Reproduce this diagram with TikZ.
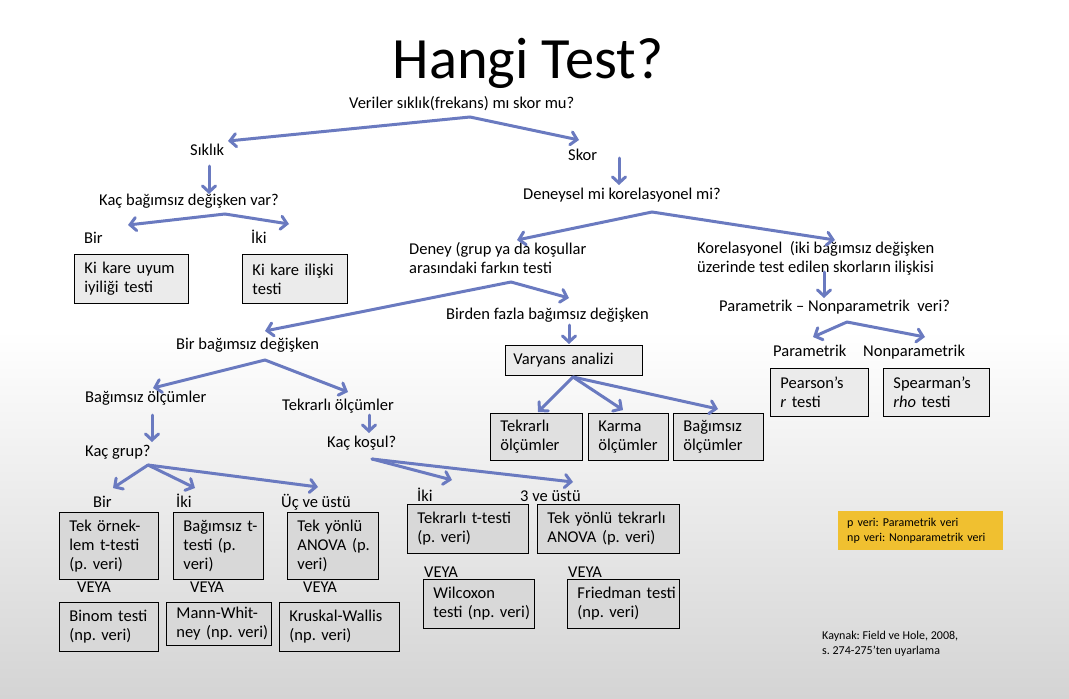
\documentclass[tikz,border=0pt]{standalone}
\usepackage{fontspec}
\setmainfont{Carlito}
\usetikzlibrary{arrows.meta}
\frenchspacing
\definecolor{arrowc}{RGB}{106,122,192}
\definecolor{boxa}{RGB}{235,235,235}
\definecolor{boxb}{RGB}{224,224,224}
\definecolor{boxc}{RGB}{216,216,216}
\definecolor{bggray}{RGB}{212,212,212}
\definecolor{legendc}{RGB}{240,192,48}
\newcommand{\bodyfont}{\fontsize{16.5}{19}\selectfont}
\newcommand{\smallfnt}{\fontsize{12}{15}\selectfont}
\tikzset{
  lbl/.style={anchor=mid west, inner sep=0pt, yshift=-2.5pt, font=\bodyfont},
  mlbl/.style={anchor=west, inner sep=0pt, align=left, yshift=-1pt, font=\bodyfont},
  tbox/.style={draw=black, line width=0.9pt, anchor=north west, align=left,
    inner xsep=10pt, inner ysep=0pt, font=\bodyfont},
  arr/.style={draw=arrowc, line width=3pt, line cap=round,
    -{Straight Barb[length=6pt,width=13pt,line cap=round]}},
}
\begin{document}
\begin{tikzpicture}[x=1pt,y=-1pt]
\useasboundingbox (0,0) rectangle (1069,699);
\fill[white] (0,0) rectangle (1069,699);
\shade[top color=white, bottom color=bggray] (0,330) rectangle (1069,699);

% title
\node[anchor=base, inner sep=0pt, font=\fontsize{58.5}{62}\selectfont] (title) at (528,78) {Hangi Test?};

% top level
\node[lbl] (veriler) at (349,104) {Veriler sıklık(frekans) mı skor mu?};
\node[lbl] (siklik) at (190,151) {Sıklık};
\node[lbl] (skor) at (568,156) {Skor};
\node[lbl] (kacbag) at (99,201) {Kaç bağımsız değişken var?};
\node[lbl] (bir1) at (84,239) {Bir};
\node[lbl] (iki1) at (251,239) {İki};
\node[tbox, fill=boxa, minimum width=114pt, text width=94pt, minimum height=49pt] (kiuyum) at (74,254) {\mbox{Ki kare uyum}\\\mbox{iyiliği testi}};
\node[tbox, fill=boxa, minimum width=105pt, text width=85pt, minimum height=49pt] (kiilis) at (242,254) {\mbox{Ki kare ilişki}\\\mbox{testi}};

\node[lbl] (deneysel) at (523,195) {Deneysel mi korelasyonel mi?};
\node[mlbl] (deney) at (409,257) {Deney (grup ya da koşullar\\arasındaki farkın testi};
\node[mlbl] (korel) at (697,257) {Korelasyonel\ \ (iki bağımsız değişken\\üzerinde test edilen skorların ilişkisi};

\node[lbl] (birden) at (446,315) {Birden fazla bağımsız değişken};
\node[tbox, fill=boxa, inner xsep=8pt, minimum width=137pt, text width=121pt, minimum height=30pt] (varyans) at (505,345) {Varyans analizi};
\node[tbox, fill=boxb, minimum width=92pt, text width=72pt, minimum height=47pt] (tekrolc) at (490,413) {\mbox{Tekrarlı}\\\mbox{ölçümler}};
\node[tbox, fill=boxb, minimum width=80pt, text width=60pt, minimum height=47pt] (karma) at (588,413) {\mbox{Karma}\\\mbox{ölçümler}};
\node[tbox, fill=boxb, minimum width=90pt, text width=70pt, minimum height=47pt] (bagolc) at (673,413) {\mbox{Bağımsız}\\\mbox{ölçümler}};

\node[lbl] (parnon) at (719,307) {Parametrik -- Nonparametrik\ \ veri?};
\node[lbl] (param) at (773,352) {Parametrik};
\node[lbl] (nonparam) at (863,352) {Nonparametrik};
\node[tbox, fill=boxa, minimum width=98pt, text width=78pt, minimum height=48pt] (pearson) at (770,368) {\mbox{Pearson’s}\\\mbox{\textit{r} testi}};
\node[tbox, fill=boxa, minimum width=106pt, text width=86pt, minimum height=48pt] (spearman) at (883,368) {\mbox{Spearman’s}\\\mbox{\textit{rho} testi}};

% left branch
\node[lbl] (birbag) at (176,345) {Bir bağımsız değişken};
\node[lbl] (bagolcl) at (85,398) {Bağımsız ölçümler};
\node[lbl] (tekolcl) at (282,406) {Tekrarlı ölçümler};
\node[lbl] (kacgrup) at (85,452) {Kaç grup?};
\node[lbl] (kackosul) at (327,443) {Kaç koşul?};

\node[lbl] (bir2) at (93,503) {Bir};
\node[lbl] (iki2) at (176,503) {İki};
\node[lbl] (uc) at (281,503) {Üç ve üstü};
\node[tbox, fill=boxc, minimum width=99pt, text width=79pt, minimum height=67pt] (tekornek) at (59,512) {\mbox{Tek örnek-}\\\mbox{lem t-testi}\\\mbox{(p. veri)}};
\node[tbox, fill=boxc, minimum width=90pt, text width=70pt, minimum height=67pt] (bagt) at (173,512) {\mbox{Bağımsız t-}\\\mbox{testi (p.}\\\mbox{veri)}};
\node[tbox, fill=boxc, minimum width=91pt, text width=71pt, minimum height=67pt] (anova) at (287,512) {\mbox{Tek yönlü}\\\mbox{ANOVA (p.}\\\mbox{veri)}};
\node[lbl] (veya1) at (77,588) {VEYA};
\node[lbl] (veya2) at (190,588) {VEYA};
\node[lbl] (veya3) at (303,588) {VEYA};
\node[tbox, fill=boxc, minimum width=99pt, text width=79pt, minimum height=49pt] (binom) at (59,602) {\mbox{Binom testi}\\\mbox{(np. veri)}};
\node[tbox, fill=boxc, minimum width=105pt, text width=85pt, minimum height=43pt] (mann) at (166,602) {\mbox{Mann-Whit-}\\\mbox{ney (np. veri)}};
\node[tbox, fill=boxc, minimum width=120pt, text width=100pt, minimum height=49pt] (kruskal) at (279,602) {\mbox{Kruskal-Wallis}\\\mbox{(np. veri)}};

\node[lbl] (iki3) at (417,497) {İki};
\node[lbl] (ucve) at (520,497) {3 ve üstü};
\node[tbox, fill=boxc, minimum width=121pt, text width=101pt, minimum height=49pt] (tekrt) at (407,504) {\mbox{Tekrarlı t-testi}\\\mbox{(p. veri)}};
\node[tbox, fill=boxc, minimum width=142pt, text width=122pt, minimum height=49pt] (tekyt) at (537,504) {\mbox{Tek yönlü tekrarlı}\\\mbox{ANOVA (p. veri)}};
\node[lbl] (veya4) at (424,573) {VEYA};
\node[lbl] (veya5) at (568,573) {VEYA};
\node[tbox, fill=boxc, minimum width=111pt, text width=91pt, minimum height=49pt] (wilcoxon) at (423,579) {\mbox{Wilcoxon}\\\mbox{testi (np. veri)}};
\node[tbox, fill=boxc, minimum width=112pt, text width=92pt, minimum height=49pt] (friedman) at (567,579) {\mbox{Friedman testi}\\\mbox{(np. veri)}};

% legend and source
\node[anchor=north west, fill=legendc, minimum width=165pt, minimum height=39pt, text width=147pt, inner xsep=9pt, inner ysep=0pt, align=left, font=\smallfnt] (legend) at (838,511) {p veri: Parametrik veri\\np veri: Nonparametrik veri};
\node[anchor=west, inner sep=0pt, align=left, font=\smallfnt] (kaynak) at (822,644) {Kaynak: Field ve Hole, 2008,\\s. 274-275’ten uyarlama};

% connector points
\coordinate (pA) at (470,117);
\coordinate (tA1) at (228,141);
\coordinate (tA2) at (579,140);
\coordinate (sB) at (209,166);
\coordinate (tB) at (209,194);
\coordinate (pC) at (225,214);
\coordinate (tC1) at (128,225);
\coordinate (tC2) at (289,224);
\coordinate (sD) at (619,158);
\coordinate (tD) at (619,185);
\coordinate (pE) at (652,212);
\coordinate (tE1) at (517,240);
\coordinate (tE2) at (835,240);
\coordinate (pF) at (511,282);
\coordinate (tF1) at (265,331);
\coordinate (tF2) at (569,298);
\coordinate (sG) at (569,325);
\coordinate (tG) at (569,344);
\coordinate (pH) at (573,377);
\coordinate (tH1) at (538,412);
\coordinate (tH2) at (623,410);
\coordinate (tH3) at (718,409);
\coordinate (sI) at (824,272);
\coordinate (tI) at (824,298);
\coordinate (pJ) at (847,322);
\coordinate (tJ1) at (813,337);
\coordinate (tJ2) at (925,337);
\coordinate (pK) at (265,360);
\coordinate (tK1) at (153,388);
\coordinate (tK2) at (348,392);
\coordinate (sL) at (152,415);
\coordinate (tL) at (152,442);
\coordinate (sM) at (369,415);
\coordinate (tM) at (369,433);
\coordinate (pN) at (148,465);
\coordinate (tN1) at (113,488);
\coordinate (tN2) at (195,488);
\coordinate (tN3) at (318,487);
\coordinate (pO) at (372,459);
\coordinate (tO1) at (452,480);
\coordinate (tO2) at (573,482);

\draw[arr] (pA) -- (tA1);
\draw[arr] (pA) -- (tA2);
\draw[arr] (sB) -- (tB);
\draw[arr] (pC) -- (tC1);
\draw[arr] (pC) -- (tC2);
\draw[arr] (sD) -- (tD);
\draw[arr] (pE) -- (tE1);
\draw[arr] (pE) -- (tE2);
\draw[arr] (pF) -- (tF1);
\draw[arr] (pF) -- (tF2);
\draw[arr] (sG) -- (tG);
\draw[arr] (pH) -- (tH1);
\draw[arr] (pH) -- (tH2);
\draw[arr] (pH) -- (tH3);
\draw[arr] (sI) -- (tI);
\draw[arr] (pJ) -- (tJ1);
\draw[arr] (pJ) -- (tJ2);
\draw[arr] (pK) -- (tK1);
\draw[arr] (pK) -- (tK2);
\draw[arr] (sL) -- (tL);
\draw[arr] (sM) -- (tM);
\draw[arr] (pN) -- (tN1);
\draw[arr] (pN) -- (tN2);
\draw[arr] (pN) -- (tN3);
\draw[arr] (pO) -- (tO1);
\draw[arr] (pO) -- (tO2);
\end{tikzpicture}
\end{document}
